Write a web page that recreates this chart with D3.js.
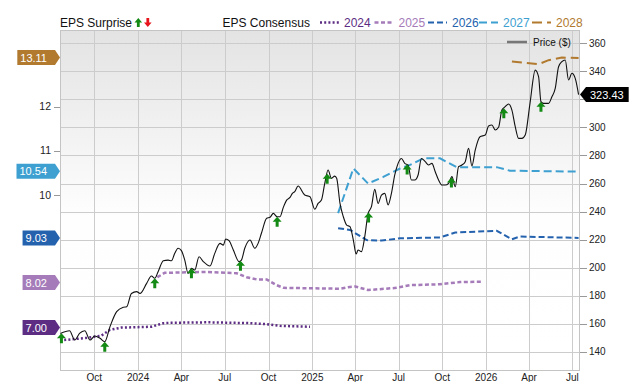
<!DOCTYPE html>
<html><head><meta charset="utf-8">
<script src="https://cdn.jsdelivr.net/npm/d3@7"></script>
<style>
html,body{margin:0;padding:0;background:#fff;}
svg{display:block;font-family:"Liberation Sans",Arial,sans-serif;}
</style></head>
<body><svg id="chart" width="640" height="382"></svg>
<script>
// ---------- DATA ----------
const baseDate = "2023-10-01";          // day offsets below are relative to this date
const domainStart = "2023-07-21";
const domainEnd = "2026-07-17";

const priceDay = [-71,-52,-41,-31,-20,-9,1,12,22,33,47,61,68,78,89,96,110,120,127,134,145,155,162,169,176,183,190,197,204,211,220,229,243,253,264,271,276,283,292,304,309,316,327,337,344,351,362,369,376,384,390,397,404,411,416,421,428,442,453,463,470,477,484,491,498,505,509,516,523,530,537,544,550,554,561,568,575,582,589,596,603,610,617,624,631,638,645,652,659,666,673,680,687,695,702,709,716,723,730,737,744,751,758,765,772,779,786,793,800,810,821,828,835,842,849,856,863,870,877,884,891,898,905,915,926,933,938,943,954,961,968,975,982,989,996,1003,1010,1017];
const priceVal = [153.1,155.0,148.4,153.1,155.0,148.4,151.2,149.6,147.2,157.9,168.6,171.7,172.1,181.6,182.9,181.6,188.8,194.0,192.4,197.1,204.9,205.4,204.9,210.2,213.8,212.1,205.4,195.9,199.5,198.3,207.8,204.3,201.2,210.2,217.3,216.1,220.4,219.2,212.6,204.3,205.4,213.8,219.7,213.8,217.3,224.5,235.2,235.9,238.7,236.3,236.3,243.0,248.2,250.1,253.0,254.2,258.2,251.8,250.6,241.6,245.8,248.2,260.1,269.6,263.7,265.3,263.7,245.8,236.3,230.4,229.2,219.7,209.7,212.6,211.4,222.1,238.7,243.5,255.8,245.8,251.8,253.0,244.7,253.0,266.1,274.4,277.9,274.4,273.2,262.5,262.5,266.1,277.9,275.6,273.2,274.4,268.4,262.5,258.9,258.9,260.1,264.9,257.7,272.0,273.2,275.6,285.1,272.5,283.9,293.4,294.6,301.0,301.7,298.2,300.1,312.4,314.8,316.7,312.4,300.5,292.2,292.2,294.6,317.2,340.9,336.2,318.4,317.2,317.2,321.9,327.9,343.3,346.9,348.1,333.8,338.6,335.0,323.43];
const lastPrice = 323.43;

const surpriseDay = [-69,22,127,204,307,384,489,576,657,750,860,938];

const eps2024Day = [-72,-13,15,33,57,120,145,160,240,330,360,390,453];
const eps2024Val = [6.71,6.77,6.82,6.95,7.00,7.02,7.10,7.11,7.12,7.10,7.08,7.04,7.02];
const eps2025Day = [124,134,148,236,299,320,341,362,383,397,516,537,548,575,635,663,726,768,817];
const eps2025Val = [8.02,8.15,8.24,8.26,8.23,8.14,8.09,8.09,7.96,7.90,7.88,7.92,7.93,7.85,7.90,7.96,7.98,8.03,8.04];
const eps2026Day = [512,537,572,603,642,726,758,845,877,894,1017];
const eps2026Val = [9.25,9.21,8.98,8.97,9.02,9.04,9.15,9.19,9.00,9.06,9.03];
const eps2027Day = [512,544,575,607,642,663,691,726,761,845,873,1017];
const eps2027Val = [9.59,10.60,10.26,10.41,10.60,10.68,10.83,10.83,10.63,10.63,10.55,10.53];
const eps2028Day = [877,933,954,982,1017];
const eps2028Val = [13.02,12.96,13.05,13.11,13.10];

const seriesNames = ["2024","2025","2026","2027","2028"];
const badgeVals = [7.00, 8.02, 9.03, 10.54, 13.11];
const seriesColors = ["#5c2d83","#a57bb9","#2462ae","#3ea0d1","#b17a2f"];
const seriesDash = ["2,2.2","4,2.5","6,3","8,4","10,5"];
const seriesWidth = [2.5,2.5,2,2,2];

const priceTicks = [140,160,180,200,220,240,260,280,300,320,340,360];
const epsTicks = [10,11,12];

// ---------- SETUP ----------
const parse = d3.utcParse("%Y-%m-%d");
const base = parse(baseDate);
const dayDate = n => d3.utcDay.offset(base, n);

const L = 60, R = 580, T = 30, B = 370;
const svg = d3.select("#chart");

const x = d3.scaleUtc().domain([parse(domainStart), parse(domainEnd)]).range([L, R]);
const yP = d3.scaleLinear().domain([127, 369.5]).range([B, T]);
const yE = d3.scaleLinear().domain([6.041, 13.733]).range([B, T]);

// background gradient
const defs = svg.append("defs");
const grad = defs.append("linearGradient").attr("id","bg").attr("x1",0).attr("x2",0).attr("y1",0).attr("y2",1);
grad.append("stop").attr("offset","0%").attr("stop-color","#e3e3e3");
grad.append("stop").attr("offset","55%").attr("stop-color","#fefefe");
grad.append("stop").attr("offset","100%").attr("stop-color","#ffffff");
svg.append("rect").attr("x",L).attr("y",T).attr("width",R-L).attr("height",B-T).attr("fill","url(#bg)");

// grid
const xTicks = x.ticks(d3.utcMonth.every(3));
const grid = svg.append("g");
grid.selectAll("line.v").data(xTicks).join("line")
  .attr("x1",d=>Math.round(x(d))+0.5).attr("x2",d=>Math.round(x(d))+0.5)
  .attr("y1",T).attr("y2",B).attr("stroke","#cccccc").attr("stroke-width",1);
grid.selectAll("line.h").data(priceTicks).join("line")
  .attr("x1",L).attr("x2",R).attr("y1",d=>Math.round(yP(d))+0.5).attr("y2",d=>Math.round(yP(d))+0.5)
  .attr("stroke","#cccccc").attr("stroke-width",1);
svg.append("rect").attr("x",L+0.5).attr("y",T+0.5).attr("width",R-L-1).attr("height",B-T)
  .attr("fill","none").attr("stroke","#c4c4c4");

// x axis labels
const fmt = d => d.getUTCMonth()===0 ? d3.utcFormat("%Y")(d) : d3.utcFormat("%b")(d);
svg.append("g").selectAll("text").data(xTicks).join("text")
  .attr("x",d=>x(d)).attr("y",381).attr("text-anchor","middle")
  .attr("font-size",10).attr("fill","#222").text(fmt);

// right axis (labels hidden where the last-price badge sits)
const ra = svg.append("g");
ra.selectAll("line").data(priceTicks).join("line")
  .attr("x1",R).attr("x2",R+7).attr("y1",d=>Math.round(yP(d))+0.5).attr("y2",d=>Math.round(yP(d))+0.5)
  .attr("stroke","#999");
ra.selectAll("text").data(priceTicks.filter(d=>Math.abs(yP(d)-yP(lastPrice))>10)).join("text")
  .attr("x",R+9).attr("y",d=>yP(d)+3.5).attr("font-size",10).attr("fill","#222").text(d=>d);

// left axis
const la = svg.append("g");
la.selectAll("line").data(epsTicks).join("line")
  .attr("x1",L-6).attr("x2",L).attr("y1",d=>Math.round(yE(d))+0.5).attr("y2",d=>Math.round(yE(d))+0.5)
  .attr("stroke","#999");
la.selectAll("text").data(epsTicks).join("text")
  .attr("x",L-9).attr("y",d=>yE(d)+3.5).attr("text-anchor","end").attr("font-size",10.5).attr("fill","#222").text(d=>d);

// EPS consensus lines
const epsSeries = [
  [eps2024Day, eps2024Val],[eps2025Day, eps2025Val],[eps2026Day, eps2026Val],
  [eps2027Day, eps2027Val],[eps2028Day, eps2028Val]
];
const eLine = d3.line().x(d=>x(dayDate(d[0]))).y(d=>yE(d[1]));
epsSeries.forEach((s,i)=>{
  const pts = s[0].map((d,j)=>[d, s[1][j]]);
  svg.append("path").datum(pts).attr("d",eLine).attr("fill","none")
    .attr("stroke",seriesColors[i]).attr("stroke-width",seriesWidth[i])
    .attr("stroke-dasharray",seriesDash[i]);
});

// price line
const pts = priceDay.map((d,i)=>[d, priceVal[i]]);
const pLine = d3.line().x(d=>x(dayDate(d[0]))).y(d=>yP(d[1])).curve(d3.curveMonotoneX);
svg.append("path").datum(pts).attr("d",pLine).attr("fill","none").attr("stroke","#111").attr("stroke-width",1.1);

// surprise arrows
const priceAt = day => {
  const i = d3.bisectLeft(priceDay, day);
  if (i<=0) return priceVal[0];
  if (i>=priceDay.length) return priceVal[priceVal.length-1];
  const t = (day-priceDay[i-1])/(priceDay[i]-priceDay[i-1]);
  return priceVal[i-1] + t*(priceVal[i]-priceVal[i-1]);
};
const upArrow = "M0,0 L4.5,5 L1.5,5 L1.5,10 L-1.5,10 L-1.5,5 L-4.5,5 Z";
svg.append("g").selectAll("path").data(surpriseDay).join("path")
  .attr("d",upArrow).attr("fill","#138a13")
  .attr("transform",d=>`translate(${x(dayDate(d))},${yP(priceAt(d))})`);

// left badges
badgeVals.forEach((v,i)=>{
  const g = svg.append("g");
  const yy = yE(v);
  const path = g.append("path").attr("fill",seriesColors[i]);
  const t = g.append("text").attr("font-size",11).attr("fill","#fff").text(v.toFixed(2));
  const w = t.node().getComputedTextLength();
  const bodyR = L-5, bodyL = bodyR - w - 11, h = 7.5;
  path.attr("d",`M${bodyL},${yy-h} L${bodyR},${yy-h} L${L},${yy} L${bodyR},${yy+h} L${bodyL},${yy+h} Z`);
  t.attr("x",bodyL+3).attr("y",yy+4);
});

// right price badge
{
  const g = svg.append("g");
  const yy = yP(lastPrice);
  const path = g.append("path").attr("fill","#000");
  const t = g.append("text").attr("font-size",11).attr("fill","#fff").text(lastPrice.toFixed(2));
  const w = t.node().getComputedTextLength();
  const bodyL = R+6, bodyR = bodyL + w + 9, h = 7.5;
  path.attr("d",`M${R},${yy} L${bodyL},${yy-h} L${bodyR},${yy-h} L${bodyR},${yy+h} L${bodyL},${yy+h} Z`);
  t.attr("x",bodyL+4).attr("y",yy+4);
}

// legend
const lg = svg.append("g").attr("font-size",12);
lg.append("text").attr("x",60).attr("y",27).attr("fill","#111").text("EPS Surprise");
lg.append("path").attr("d","M0,0 L3.8,4.5 L1.4,4.5 L1.4,9 L-1.4,9 L-1.4,4.5 L-3.8,4.5 Z")
  .attr("fill","#138a13").attr("transform","translate(138.3,18)");
lg.append("path").attr("d","M0,0 L3.8,-4.5 L1.4,-4.5 L1.4,-9 L-1.4,-9 L-1.4,-4.5 L-3.8,-4.5 Z")
  .attr("fill","#e8141b").attr("transform","translate(147.8,27)");
lg.append("text").attr("x",222.5).attr("y",27).attr("fill","#111").text("EPS Consensus");
const legX = [320, 374.5, 428, 479, 532];
seriesNames.forEach((n,i)=>{
  lg.append("line").attr("x1",legX[i]).attr("x2",legX[i]+19).attr("y1",22.5).attr("y2",22.5)
    .attr("stroke",seriesColors[i]).attr("stroke-width",seriesWidth[i]).attr("stroke-dasharray",seriesDash[i]);
  lg.append("text").attr("x",legX[i]+24).attr("y",27).attr("fill",seriesColors[i]).text(n);
});
// price legend
svg.append("line").attr("x1",507).attr("x2",527).attr("y1",42).attr("y2",42).attr("stroke","#777").attr("stroke-width",2.5);
svg.append("text").attr("x",533).attr("y",45.5).attr("font-size",10).attr("fill","#111").text("Price ($)");
</script></body></html>
